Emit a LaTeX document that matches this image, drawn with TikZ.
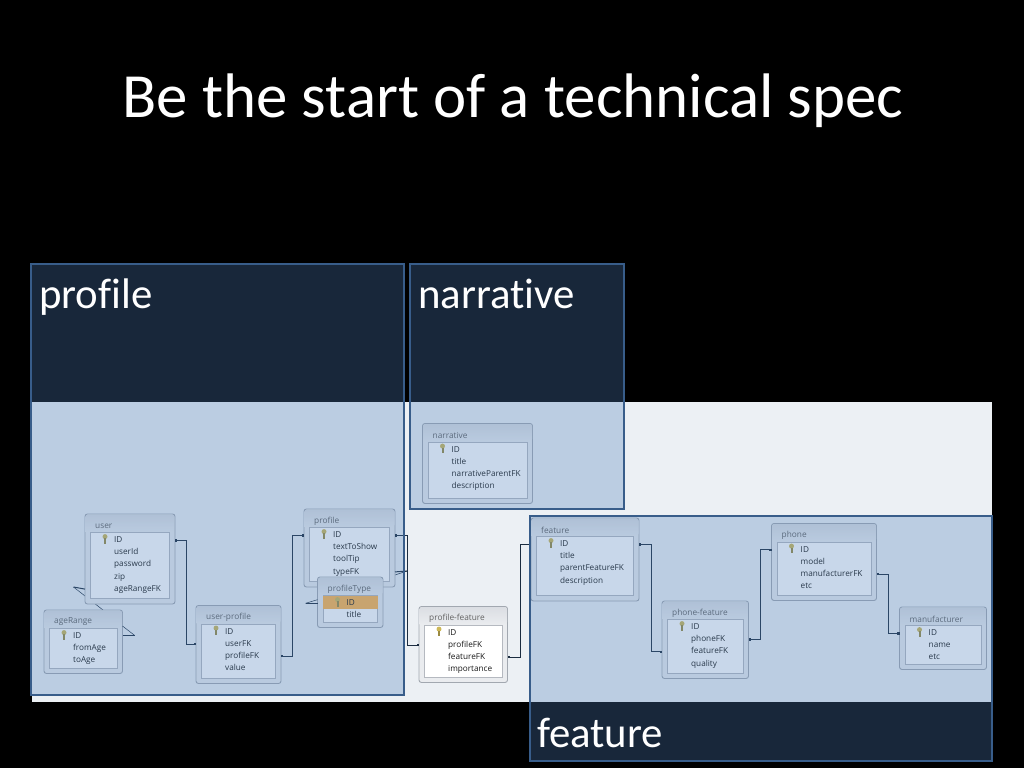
\documentclass[tikz,border=0pt]{standalone}
\usepackage{fontspec}
\setmainfont[Ligatures=CommonOff]{Carlito}
\newfontfamily\dbfont{Open Sans}
\usetikzlibrary{arrows.meta}
\definecolor{panelBlue}{HTML}{4F81BD}
\definecolor{panelLine}{HTML}{385D8A}
\definecolor{sheet}{HTML}{ECF0F4}
\definecolor{tableBody}{HTML}{EAECEF}
\definecolor{tableHead}{HTML}{DBDEE3}
\definecolor{tableLine}{HTML}{A2A8B0}
\definecolor{relLine}{HTML}{1B2C40}
\definecolor{keyGold}{HTML}{CDB858}
\definecolor{rowPick}{HTML}{FFB54D}
\tikzset{
  panel/.style={draw=panelLine, line width=2pt, fill=panelBlue, fill opacity=.31, draw opacity=1, anchor=north west, inner sep=0pt, outer sep=0pt},
  panellabel/.style={text=white, anchor=base west, inner sep=0pt, font=\fontsize{42.8}{45}\selectfont},
  outerbox/.style={draw=tableLine, fill=tableBody, line width=.9pt, rounded corners=2.5pt, anchor=north west, inner sep=0pt, outer sep=0pt},
  innerbox/.style={draw=tableLine!80, fill=white, line width=.8pt, anchor=north west, inner sep=0pt, outer sep=0pt},
  tabletitle/.style={text=black!62, anchor=west, inner sep=0pt, font=\dbfont\fontsize{8.3}{10}\selectfont},
  field/.style={text=black!90, anchor=west, inner sep=0pt, text height=6.5pt, text depth=2pt, font=\dbfont\fontsize{8.2}{10}\selectfont},
  rel/.style={draw=relLine, line width=1pt, {Square[length=2.4pt,width=2.4pt]}-{Square[length=2.4pt,width=2.4pt]}},
  selfrel/.style={draw=relLine, line width=.5pt},
}
% #1 row fill, #2 name, #3 title, #4 x, #5 y, #6 width, #7 height, #8 fields
\newcommand{\dbtable}[8][]{
  \node[outerbox, minimum width=#6pt, minimum height=#7pt] (#2) at (#4,#5) {};
  \shade[top color=tableHead, bottom color=tableBody]
    (#4+.5,#5+18) [rounded corners=2.5pt] -- (#4+.5,#5+.5) -- (#4+#6-.5,#5+.5) -- (#4+#6-.5,#5+18) [sharp corners] -- cycle;
  \node[innerbox, minimum width=#6pt-11pt, minimum height=#7pt-24pt] (#2-body) at (#4+5.5,#5+18.5) {};
  #1
  \node[tabletitle] (#2-title) at (#4+10,#5+12) {#3};
  \fill[keyGold] (#4+20,#5+22.6) circle (2.5pt);
  \fill[keyGold!75!black] (#4+19,#5+24) rectangle (#4+21,#5+29.5);
  \foreach \fname [count=\i from 0] in {#8}
    \node[field] (#2-f\i) at (#4+29,#5+26.3+12.2*\i) {\fname};
}

\begin{document}
\begin{tikzpicture}[x=1pt, y=-1pt]
    \path[fill=black, use as bounding box] (0,0) rectangle (1024,768);
    \fill[sheet] (32,402) rectangle (992,702);

    \node[text=white, inner sep=0pt, font=\fontsize{62.9}{64}\selectfont] (slideTitle) at (513,101) {Be the start of a technical spec};

    % tables
    \coordinate (ageLoop) at (73.5,587);
    \coordinate (ageTop) at (103,610);
    \draw[selfrel] (ageLoop) -- (ageTop);
    \coordinate (typeLoop) at (407,571);
    \coordinate (typeHid) at (383,579);
    \draw[selfrel] (typeHid) -- (typeLoop);

    \dbtable{ageRange}{ageRange}{44}{610}{78.5}{63.5}{ID,fromAge,toAge}
    \dbtable{user}{user}{85}{514}{90}{90}{ID,userId,password,zip,ageRangeFK}
    \dbtable{userProfile}{user-profile}{196}{605.5}{85}{78}{ID,userFK,profileFK,value}
    \dbtable{profile}{profile}{304}{509}{91}{78}{ID,textToShow,toolTip,typeFK}
    \dbtable[{\fill[rowPick] (322.5,596) rectangle (377.5,609);}]{profileType}{profileType}{317.5}{577}{65.5}{50.5}{ID,title}
    \dbtable{narrative}{narrative}{422.5}{423.5}{110}{80}{ID,title,narrativeParentFK,description}
    \dbtable{profileFeature}{profile-feature}{419}{606.5}{88.5}{76}{ID,profileFK,featureFK,importance}
    \dbtable{feature}{feature}{531}{518}{108}{83}{ID,title,parentFeatureFK,description}
    \dbtable{phoneFeature}{phone-feature}{662}{601}{86.5}{77.5}{ID,phoneFK,featureFK,quality}
    \dbtable{phone}{phone}{771.5}{523.5}{105}{77}{ID,model,manufacturerFK,etc}
    \dbtable{manufacturer}{manufacturer}{899.5}{607}{87}{62.5}{ID,name,etc}

    % relations
    \draw[rel] (user.east |- user-f0) -- ++(11.5,0) |- (userProfile.west |- userProfile-f1);
    \draw[rel] (userProfile.east |- userProfile-f2) -- ++(11,0) |- (profile.west |- profile-f0);
    \draw[rel] (profile.east |- profile-f0) -- ++(12,0) |- (profileFeature.west |- profileFeature-f1);
    \draw[selfrel, line width=1pt] (profile.east |- profile-f3) -- (typeLoop);
    \draw[rel] (profileFeature.east |- profileFeature-f2) -- ++(12.5,0) |- (feature.west |- feature-f0);
    \draw[rel] (feature.east |- feature-f0) -- ++(12,0) |- (phoneFeature.west |- phoneFeature-f2);
    \draw[rel] (phoneFeature.east |- phoneFeature-f1) -- ++(11.5,0) |- (phone.west |- phone-f0);
    \draw[rel] (phone.east |- phone-f2) -- ++(11.5,0) |- (manufacturer.west |- manufacturer-f0);

    % little loops of the self references
    \draw[selfrel, line width=1pt] (user.west |- user-f4) -- (ageLoop);
    \coordinate (ageTip) at (134.5,635.3);
    \draw[selfrel] (ageRange.east |- 0,626) -- (ageTip);
    \draw[selfrel, line width=1pt] (ageTip) -- (ageRange.east |- ageTip);
    \coordinate (typeTip) at (305.5,603.3);
    \draw[selfrel] (typeTip) -- (profileType.west |- 0,599.7);
    \draw[selfrel, line width=1pt] (typeTip) -- (profileType.west |- typeTip);

    % panels on top
    \node[panel, minimum width=373pt, minimum height=431pt] (profilePanel) at (31,264) {};
    \node[panel, minimum width=214pt, minimum height=245pt] (narrativePanel) at (410,264) {};
    \node[panel, minimum width=462pt, minimum height=245pt] (featurePanel) at (530,516) {};

    \node[panellabel] (profileLabel) at (39,308.5) {profile};
    \node[panellabel] (narrativeLabel) at (418,308.5) {narrative};
    \node[panellabel] (featureLabel) at (537,747.5) {feature};
\end{tikzpicture}
\end{document}
